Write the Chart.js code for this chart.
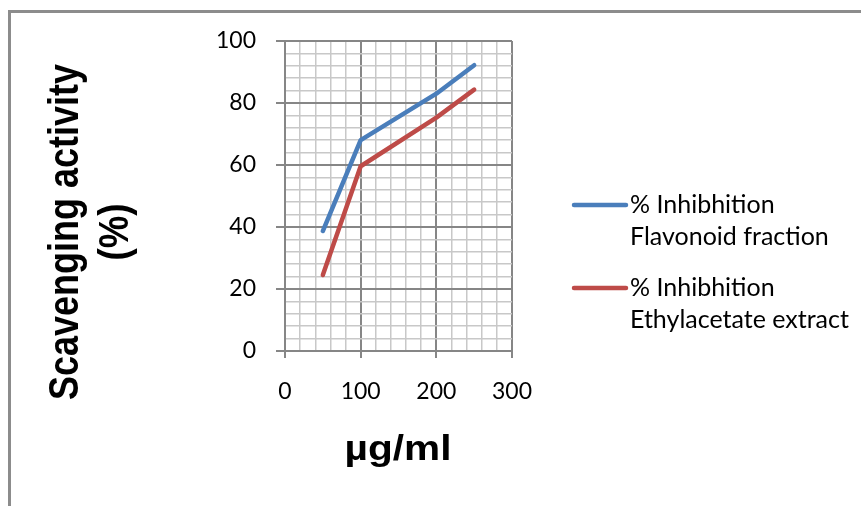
<!DOCTYPE html>
<html>
<head>
<meta charset="utf-8">
<title>Scavenging activity</title>
<script src="https://cdn.jsdelivr.net/npm/chart.js@4"></script>
<style>
    body { margin: 0; background: #ffffff; }
    #chart { display: block; }
</style>
</head>
<body>
<canvas id="chart" width="861" height="506"></canvas>
<script>
// Concentrations (µg/ml) and % inhibition for each sample
const concentrations = [50, 100, 200, 250];
const flavonoidFraction = [38.7, 68.0, 83.0, 92.2];
const ethylacetateExtract = [24.5, 59.6, 75.3, 84.3];

const seriesLabels = [
    ["% Inhibhition", "Flavonoid fraction"],
    ["% Inhibhition", "Ethylacetate extract"],
];
const seriesColors = ["#4a7ebb", "#be4b48"];

const yTitle = ["Scavenging activity", "(%)"];
const xTitle = "µg/ml";

const majorGrid = "#868686";
const minorGrid = "#c8c8c8";

const toPoints = (ys) => concentrations.map((x, i) => ({ x: x, y: ys[i] }));

// Frame, axis titles and the two-line legend are drawn by hand
const decorations = {
    id: "decorations",
    beforeDraw(chart) {
        const ctx = chart.ctx;
        ctx.save();
        ctx.strokeStyle = "#8c8c8c";
        ctx.lineWidth = 3;
        ctx.beginPath();
        ctx.moveTo(9.5, 506);
        ctx.lineTo(9.5, 11.5);
        ctx.lineTo(861, 11.5);
        ctx.stroke();
        ctx.restore();
    },
    afterDraw(chart) {
        const ctx = chart.ctx;
        ctx.save();
        ctx.fillStyle = "#000000";

        // y title, rotated, squeezed to its length
        ctx.font = "bold 43px 'Liberation Sans'";
        ctx.textAlign = "center";
        ctx.textBaseline = "alphabetic";
        const baselines = [78, 128];
        yTitle.forEach((line, i) => {
            const w = ctx.measureText(line).width;
            const target = i === 0 ? 336 : 57;
            ctx.save();
            ctx.translate(baselines[i], 232);
            ctx.rotate(-Math.PI / 2);
            ctx.scale(target / w, 1);
            ctx.fillText(line, 0, 0);
            ctx.restore();
        });

        // x title
        ctx.font = "bold 35px 'Liberation Sans'";
        const xw = ctx.measureText(xTitle).width;
        ctx.save();
        ctx.translate(398, 460);
        ctx.scale(107 / xw, 1);
        ctx.fillText(xTitle, 0, 0);
        ctx.restore();

        // legend
        ctx.font = "25px Lato";
        ctx.textAlign = "left";
        const entryTops = [213, 296];
        seriesLabels.forEach((lines, i) => {
            const base = entryTops[i];
            ctx.strokeStyle = seriesColors[i];
            ctx.lineWidth = 4.5;
            ctx.lineCap = "round";
            ctx.beginPath();
            ctx.moveTo(574, base - 8);
            ctx.lineTo(626, base - 8);
            ctx.stroke();
            lines.forEach((t, j) => {
                ctx.fillText(t, 630, base + j * 32);
            });
        });
        ctx.restore();
    },
};

const ctx = document.getElementById("chart").getContext("2d");
new Chart(ctx, {
    type: "line",
    data: {
        datasets: [
            {
                label: seriesLabels[0].join(" "),
                data: toPoints(flavonoidFraction),
                borderColor: seriesColors[0],
                borderWidth: 4.5,
                borderCapStyle: "round",
                borderJoinStyle: "round",
                pointRadius: 0,
                tension: 0,
            },
            {
                label: seriesLabels[1].join(" "),
                data: toPoints(ethylacetateExtract),
                borderColor: seriesColors[1],
                borderWidth: 4.5,
                borderCapStyle: "round",
                borderJoinStyle: "round",
                pointRadius: 0,
                tension: 0,
            },
        ],
    },
    options: {
        responsive: false,
        animation: false,
        devicePixelRatio: 1,
        layout: { padding: { left: 0, top: 41, right: 349, bottom: 105 } },
        plugins: { legend: { display: false }, tooltip: { enabled: false } },
        scales: {
            x: {
                type: "linear",
                min: 0,
                max: 300,
                afterFit: (scale) => { scale.height = 50; },
                ticks: {
                    stepSize: 20,
                    autoSkip: false,
                    maxRotation: 0,
                    color: "#000000",
                    padding: 20,
                    font: { family: "Lato", size: 23 },
                    callback: (v) => (v % 100 === 0 ? v : ""),
                },
                grid: {
                    color: (c) => (c.tick && c.tick.value % 100 === 0 ? majorGrid : minorGrid),
                    lineWidth: (c) => (c.tick && c.tick.value % 100 === 0 ? 2 : 1.5),
                    tickColor: (c) => (c.tick && c.tick.value % 100 === 0 ? majorGrid : "rgba(0,0,0,0)"),
                    tickLength: 7,
                },
                border: { color: majorGrid, width: 2 },
            },
            y: {
                min: 0,
                max: 100,
                afterFit: (scale) => { scale.width = 285; },
                ticks: {
                    stepSize: 4,
                    autoSkip: false,
                    color: "#000000",
                    padding: 20,
                    font: { family: "Lato", size: 23 },
                    callback: (v) => (v % 20 === 0 ? v : ""),
                },
                grid: {
                    color: (c) => (c.tick && c.tick.value % 20 === 0 ? majorGrid : minorGrid),
                    lineWidth: (c) => (c.tick && c.tick.value % 20 === 0 ? 2 : 1.5),
                    tickColor: (c) => (c.tick && c.tick.value % 20 === 0 ? majorGrid : "rgba(0,0,0,0)"),
                    tickLength: 9,
                },
                border: { color: majorGrid, width: 2 },
            },
        },
    },
    plugins: [decorations],
});
</script>
</body>
</html>
